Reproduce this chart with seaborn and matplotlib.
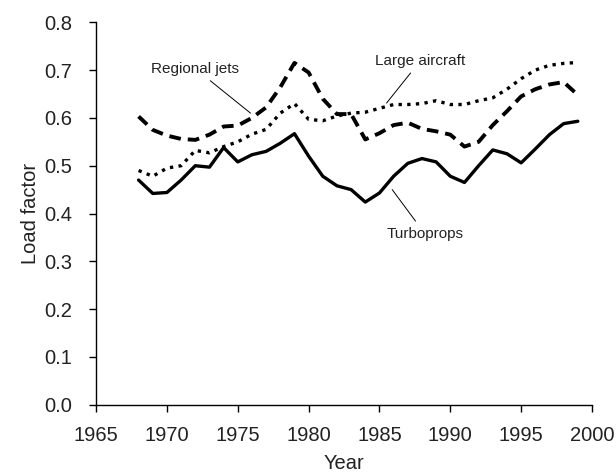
import matplotlib
matplotlib.use("Agg")
import matplotlib.pyplot as plt
import seaborn as sns
import pandas as pd

years = list(range(1968, 2000))
turboprops = [0.470, 0.442, 0.444, 0.470, 0.500, 0.497, 0.538, 0.508, 0.523, 0.530,
              0.547, 0.567, 0.520, 0.478, 0.458, 0.450, 0.424, 0.443, 0.478, 0.505,
              0.515, 0.508, 0.478, 0.465, 0.500, 0.533, 0.525, 0.506, 0.535, 0.565,
              0.588, 0.593]
regional_jets = [0.603, 0.575, 0.563, 0.556, 0.554, 0.565, 0.582, 0.584, 0.600, 0.622,
                 0.664, 0.715, 0.695, 0.640, 0.608, 0.608, 0.555, 0.568, 0.585, 0.590,
                 0.577, 0.572, 0.565, 0.540, 0.550, 0.585, 0.614, 0.645, 0.660, 0.670,
                 0.675, 0.648]
large_aircraft = [0.490, 0.478, 0.495, 0.500, 0.532, 0.527, 0.540, 0.550, 0.566, 0.576,
                  0.610, 0.630, 0.597, 0.594, 0.604, 0.610, 0.612, 0.620, 0.628, 0.628,
                  0.630, 0.636, 0.628, 0.628, 0.636, 0.642, 0.660, 0.682, 0.700, 0.710,
                  0.714, 0.716]

x_ticks = [1965, 1970, 1975, 1980, 1985, 1990, 1995, 2000]
y_ticks = [0.0, 0.1, 0.2, 0.3, 0.4, 0.5, 0.6, 0.7, 0.8]

df = pd.DataFrame({"Year": years, "Turboprops": turboprops,
                   "Regional jets": regional_jets, "Large aircraft": large_aircraft})

sns.set_style("ticks")
plt.rcParams["font.family"] = ["Liberation Sans", "DejaVu Sans"]

fig, ax = plt.subplots(figsize=(6.16, 4.74), dpi=100)
fig.subplots_adjust(left=0.156, right=0.961, bottom=0.146, top=0.953)

sns.lineplot(data=df, x="Year", y="Turboprops", ax=ax, color="black", lw=2.4,
             solid_joinstyle="round")
sns.lineplot(data=df, x="Year", y="Regional jets", ax=ax, color="black", lw=2.8,
             linestyle=(0, (3, 1.8)))
sns.lineplot(data=df, x="Year", y="Large aircraft", ax=ax, color="black", lw=2.4,
             linestyle=(0, (1, 1.6)))

# labels with leader lines
ann = dict(fontsize=11, ha="center", va="center", color="#222222",
           arrowprops=dict(arrowstyle="-", color="black", lw=0.7, shrinkA=2, shrinkB=0))
ax.annotate("Regional jets", xy=(1975.9, 0.610), xytext=(1972.0, 0.703), **ann)
ax.annotate("Large aircraft", xy=(1985.5, 0.631), xytext=(1987.9, 0.720), **ann)
ax.annotate("Turboprops", xy=(1985.9, 0.450), xytext=(1988.2, 0.358), **ann)

ax.set_xlim(1965, 2000)
ax.set_ylim(0, 0.8)
ax.set_xticks(x_ticks)
ax.set_yticks(y_ticks)
ax.set_yticklabels([f"{v:.1f}" for v in y_ticks])
ax.set_xlabel("Year", fontsize=14.5, color="#222222", labelpad=7)
ax.set_ylabel("Load factor", fontsize=14.5, color="#222222", labelpad=3)
ax.tick_params(labelsize=14.5, length=5, width=1, colors="black", labelcolor="#222222")
ax.tick_params(axis="x", pad=10)
ax.tick_params(axis="y", pad=12)
for s in ["left", "bottom"]:
    ax.spines[s].set_linewidth(1)
    ax.spines[s].set_color("black")
sns.despine(ax=ax)

fig.savefig("out.png", dpi=100)
plt.close()
